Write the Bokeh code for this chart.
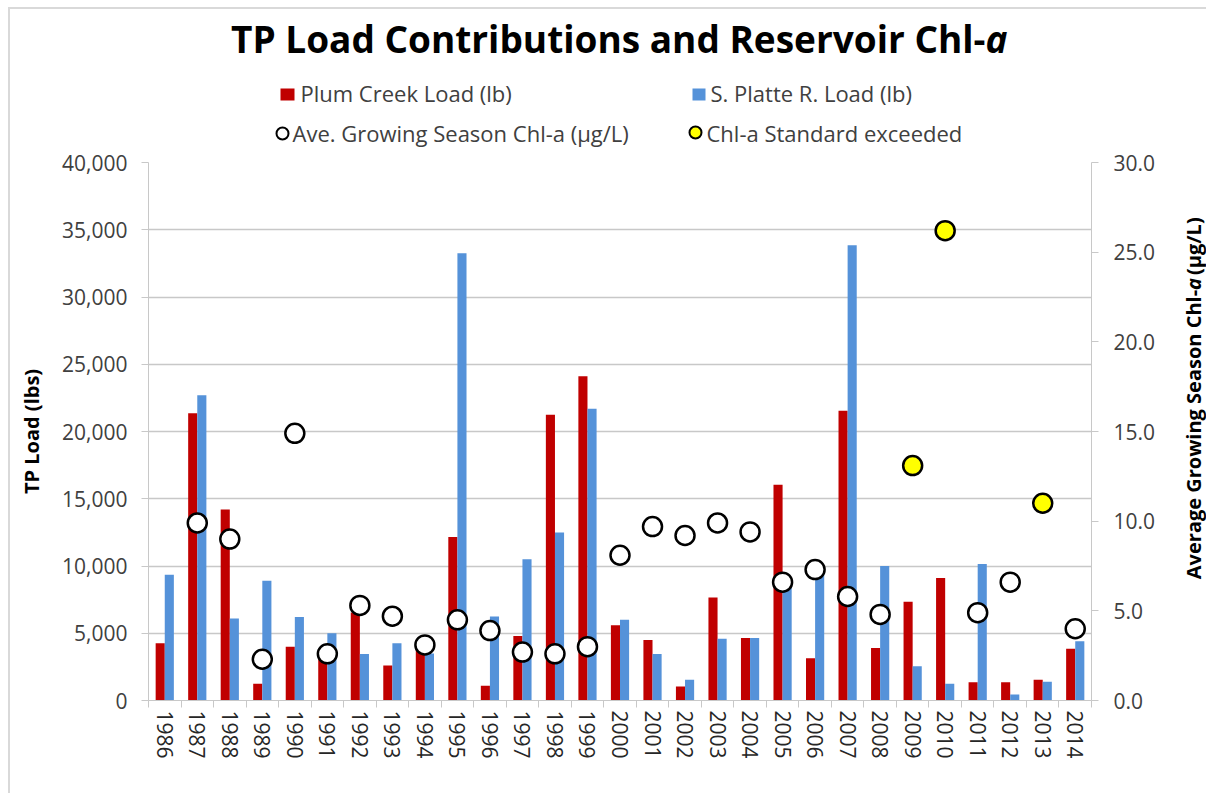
from math import pi
from bokeh.plotting import figure
from bokeh.layouts import column, row
from bokeh.models import (Range1d, LinearAxis, FixedTicker, NumeralTickFormatter,
                          CustomJSTickFormatter, ColumnDataSource)
from bokeh.transform import dodge
from bokeh.core.properties import value
from bokeh.embed import file_html
from bokeh.resources import INLINE

# ---------------- data ----------------
years = [str(y) for y in range(1986, 2015)]
plum_creek = [4250, 21350, 14200, 1250, 4000, 3700, 6550, 2600, 3800, 12150,
              1100, 4800, 21250, 24100, 5600, 4500, 1050, 7650, 4650, 16050,
              3150, 21550, 3900, 7350, 9100, 1350, 1350, 1550, 3850]
s_platte = [9350, 22700, 6100, 8900, 6200, 5000, 3450, 4250, 3500, 33250,
            6250, 10500, 12500, 21700, 6000, 3450, 1550, 4600, 4650, 8700,
            9400, 33850, 10000, 2550, 1250, 10150, 450, 1400, 4400]
chl_a = [None, 9.9, 9.0, 2.3, 14.9, 2.6, 5.3, 4.7, 3.1, 4.5,
         3.9, 2.7, 2.6, 3.0, 8.1, 9.7, 9.2, 9.9, 9.4, 6.6,
         7.3, 5.8, 4.8, 13.1, 26.2, 4.9, 6.6, 11.0, 4.0]
exceeded_years = ["2009", "2010", "2013"]
load_ticks = [0, 5000, 10000, 15000, 20000, 25000, 30000, 35000, 40000]
chl_ticks = [0, 5, 10, 15, 20, 25, 30]
legend_labels = ["Plum Creek Load (lb)", "S. Platte R. Load (lb)",
                 "Ave. Growing Season Chl-a (µg/L)", "Chl-a Standard exceeded"]

FONT = "Open Sans"
RED = "#C00000"
BLUE = "#5592D9"
YELLOW = "#FFFF00"
GRID = "#C8C8C8"
TXT = "#404040"

W_MAIN, W_STRIP, H_HEAD = 1147, 48, 138
TOP = 15
H_MAIN = TOP + 538 + 93

n = len(years)
pos = [i + 0.5 for i in range(n)]          # category centres on the x scale
bars = ColumnDataSource(dict(x=pos, plum=plum_creek, platte=s_platte))
ok = [(x, c) for x, y, c in zip(pos, years, chl_a) if c is not None and y not in exceeded_years]
ex = [(x, c) for x, y, c in zip(pos, years, chl_a) if c is not None and y in exceeded_years]
ok_src = ColumnDataSource(dict(x=[a for a, _ in ok], chl=[b for _, b in ok]))
ex_src = ColumnDataSource(dict(x=[a for a, _ in ex], chl=[b for _, b in ex]))

# ---------------- main chart ----------------
p = figure(x_range=Range1d(0, n), y_range=Range1d(0, 40000),
           frame_width=943, frame_height=538,
           min_border_left=138, min_border_right=W_MAIN - 138 - 943,
           min_border_top=TOP, min_border_bottom=93,
           output_backend="svg", toolbar_location=None, x_axis_location=None)
p.outline_line_color = None
p.xgrid.visible = False
p.ygrid.grid_line_color = GRID
p.ygrid.grid_line_width = 1.5

ya = p.yaxis[0]
ya.ticker = FixedTicker(ticks=load_ticks)
ya.formatter = NumeralTickFormatter(format="0,0")
ya.axis_label = "TP Load (lbs)"
ya.axis_label_text_font = FONT
ya.axis_label_text_font_size = "20px"
ya.axis_label_text_font_style = "bold"
ya.axis_label_text_color = "black"
ya.axis_label_standoff = 14
ya.major_label_text_font = FONT
ya.major_label_text_font_size = "21px"
ya.major_label_text_color = TXT
ya.major_label_standoff = 14
ya.major_tick_out = 7
ya.major_tick_in = 0
ya.minor_tick_line_color = None
ya.axis_line_color = GRID
ya.major_tick_line_color = GRID

p.extra_y_ranges = {"chl": Range1d(0, 30)}
ra = LinearAxis(y_range_name="chl", ticker=FixedTicker(ticks=chl_ticks),
                formatter=NumeralTickFormatter(format="0.0"),
                major_label_text_font=FONT, major_label_text_font_size="21px",
                major_label_text_color=TXT, major_label_standoff=15,
                major_tick_out=7, major_tick_in=0, minor_tick_line_color=None,
                axis_line_color=GRID, major_tick_line_color=GRID)
p.add_layout(ra, "right")

ta = LinearAxis(ticker=FixedTicker(ticks=list(range(n + 1))),
                formatter=CustomJSTickFormatter(code="return ''"),
                major_label_text_font_size="1px", major_label_standoff=0,
                major_tick_out=7, major_tick_in=0, minor_tick_line_color=None,
                axis_line_color=GRID, major_tick_line_color=GRID)
p.add_layout(ta, "below")
ca = LinearAxis(ticker=FixedTicker(ticks=pos),
                formatter=CustomJSTickFormatter(args=dict(years=years),
                                                code="return years[Math.floor(tick)]"),
                axis_line_color=None, major_tick_line_color=None, major_tick_out=0,
                major_tick_in=0, minor_tick_line_color=None,
                major_label_orientation="vertical", major_label_standoff=3,
                major_label_text_font=FONT, major_label_text_font_size="21px",
                major_label_text_color="#262626")
p.add_layout(ca, "below")

p.vbar(x=dodge("x", -0.14), top="plum", width=0.28, source=bars,
       fill_color=RED, line_color=None)
p.vbar(x=dodge("x", 0.14), top="platte", width=0.28, source=bars,
       fill_color=BLUE, line_color=None)
p.scatter(x="x", y="chl", source=ok_src, y_range_name="chl", marker="circle",
          size=19, fill_color="white", line_color="black", line_width=2.5)
p.scatter(x="x", y="chl", source=ex_src, y_range_name="chl", marker="circle",
          size=19, fill_color=YELLOW, line_color="black", line_width=2.5)

# ---------------- header: title + legend ----------------
h = figure(width=W_MAIN + W_STRIP, height=H_HEAD, x_range=Range1d(0, W_MAIN + W_STRIP),
           y_range=Range1d(H_HEAD, 0), min_border=0, output_backend="svg",
           toolbar_location=None, x_axis_location=None, y_axis_location=None)
h.grid.visible = False
h.outline_line_color = None
h.text(x=[975], y=[29], text=["TP Load Contributions and Reservoir Chl-"],
       text_align="right", text_baseline="alphabetic", text_font=value(FONT),
       text_font_size="37px", text_font_style="bold", text_color="black")
h.text(x=[975], y=[29], text=["a"], text_align="left", text_baseline="alphabetic",
       text_font=value(FONT), text_font_size="37px", text_font_style="bold italic",
       text_color="black")
# legend keys
h.rect(x=[277, 688.5], y=[85, 85], width=[14, 13], height=[12, 12],
       fill_color=[RED, BLUE], line_color=None)
h.scatter(x=[272, 685], y=[124, 123], marker="circle", size=12,
          fill_color=["white", YELLOW], line_color="black", line_width=2)
h.text(x=[290, 700, 282, 696], y=[83, 83, 123, 123], text=legend_labels,
       text_align="left", text_baseline="alphabetic", text_font=value(FONT),
       text_font_size="22px", text_color=TXT)

# ---------------- right strip: rotated axis title with italic "a" ----------------
s = figure(width=W_STRIP, height=H_MAIN, x_range=Range1d(0, W_STRIP),
           y_range=Range1d(H_MAIN, 0), min_border=0, output_backend="svg",
           toolbar_location=None, x_axis_location=None, y_axis_location=None)
s.grid.visible = False
s.outline_line_color = None
J1 = 153
s.text(x=[35], y=[J1], text=["Average Growing Season Chl-"], angle=pi / 2,
       text_align="right", text_baseline="middle", text_font=value(FONT),
       text_font_size="20px", text_font_style="bold", text_color="black")
s.text(x=[35], y=[J1], text=["a"], angle=pi / 2, text_align="left",
       text_baseline="middle", text_font=value(FONT), text_font_size="20px",
       text_font_style="bold italic", text_color="black")
s.text(x=[35], y=[J1 - 18], text=["(µg/L)"], angle=pi / 2, text_align="left",
       text_baseline="middle", text_font=value(FONT), text_font_size="20px",
       text_font_style="bold", text_color="black")

layout = column(h, row(p, s, spacing=0), spacing=0,
                styles={"margin-left": "8px", "margin-top": "7px",
                        "border-top": "2px solid #D9D9D9",
                        "border-left": "2px solid #D9D9D9"})

open("out.html", "w").write(file_html(layout, INLINE))
